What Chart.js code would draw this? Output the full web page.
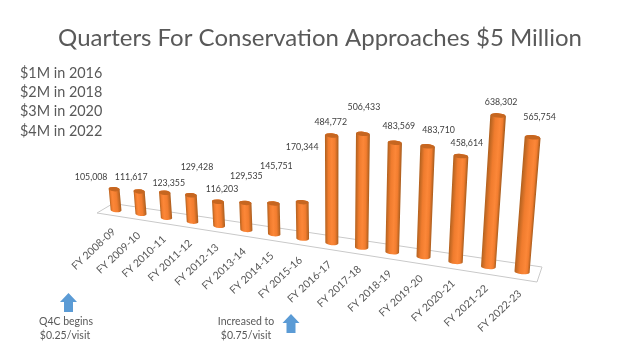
<!DOCTYPE html>
<html>
<head>
<meta charset="utf-8">
<title>Quarters For Conservation</title>
<script src="https://cdn.jsdelivr.net/npm/chart.js@4"></script>
<style>
  html, body { margin: 0; padding: 0; background: #fff; }
  canvas { display: block; }
</style>
</head>
<body>
<canvas id="q4cChart" width="640" height="360"></canvas>
<script>
// Chart data
const categories = ['FY 2008-09', 'FY 2009-10', 'FY 2010-11', 'FY 2011-12', 'FY 2012-13',
  'FY 2013-14', 'FY 2014-15', 'FY 2015-16', 'FY 2016-17', 'FY 2017-18', 'FY 2018-19',
  'FY 2019-20', 'FY 2020-21', 'FY 2021-22', 'FY 2022-23'];
const visitValues = [105008, 111617, 123355, 129428, 116203, 129535, 145751, 170344,
  484772, 506433, 483569, 483710, 458614, 638302, 565754];
const milestones = ['$1M in 2016', '$2M in 2018', '$3M in 2020', '$4M in 2022'];
const titleText = 'Quarters For Conservation Approaches $5 Million';
const valueMax = 700000;

// Hand placed labels, offset from the top of each bar
const labelShift = [[-23, -12], [-8, -14], [4, -10], [6, -28], [4, -13], [1, -27], [3, -37], [0, -55],
  [-1, -13], [1, -27], [4, -17], [11, -16], [6, -13], [3, -13], [7, -20]];

// ---------------- Perspective ----------------

// Where the value plane lands on screen: bar 1 base, last bar base, last bar at max, bar 1 at max
const quad = [[116, 210], [522, 272], [535.3, 103], [103, 64]];

function squareToQuad(q) {
  const [[x0, y0], [x1, y1], [x2, y2], [x3, y3]] = q;
  const dx1 = x1 - x2, dx2 = x3 - x2, sx = x0 - x1 + x2 - x3;
  const dy1 = y1 - y2, dy2 = y3 - y2, sy = y0 - y1 + y2 - y3;
  const den = dx1 * dy2 - dx2 * dy1;
  const g = (sx * dy2 - dx2 * sy) / den;
  const h = (dx1 * sy - sx * dy1) / den;
  return { a: x1 - x0 + g * x1, b: x3 - x0 + h * x3, c: x0,
           d: y1 - y0 + g * y1, e: y3 - y0 + h * y3, f: y0, g, h };
}
const H = squareToQuad(quad);

// Flat scale pixels -> screen pixels
function project(chart, px, py) {
  const xs = chart.scales.x, ys = chart.scales.y;
  const x0 = xs.getPixelForValue(0), x1 = xs.getPixelForValue(categories.length - 1);
  const y0 = ys.getPixelForValue(0), y1 = ys.getPixelForValue(valueMax);
  const s = (px - x0) / (x1 - x0), t = (py - y0) / (y1 - y0);
  const w = H.g * s + H.h * t + 1;
  return { x: (H.a * s + H.b * t + H.c) / w, y: (H.d * s + H.e * t + H.f) / w };
}

// ---------------- Cylinder bars ----------------

class CylinderElement extends Chart.BarElement {
  draw(ctx) {
    const chart = this.$chart;
    const hw = this.width / 2;
    const bl = project(chart, this.x - hw, this.base), br = project(chart, this.x + hw, this.base);
    const tl = project(chart, this.x - hw, this.y), tr = project(chart, this.x + hw, this.y);
    const cb = { x: (bl.x + br.x) / 2, y: (bl.y + br.y) / 2 };
    const ct = { x: (tl.x + tr.x) / 2, y: (tl.y + tr.y) / 2 };
    const rx = Math.hypot(br.x - bl.x, br.y - bl.y) / 2;
    const ry = 2.2;
    const rot = Math.atan2(br.y - bl.y, br.x - bl.x) * 0.6;

    // highlight slides across the bar with its place on the floor
    const hi = 0.5 + (cb.x - 333) / 1000;
    const grad = ctx.createLinearGradient(bl.x, cb.y, br.x, cb.y);
    grad.addColorStop(0, '#b4621f');
    grad.addColorStop(hi * 0.5, '#f07c2e');
    grad.addColorStop(hi, '#fc8738');
    grad.addColorStop(hi + (1 - hi) * 0.5, '#f27d2f');
    grad.addColorStop(1, '#ac5e1e');

    ctx.save();
    ctx.beginPath();
    ctx.moveTo(tl.x, tl.y);
    ctx.lineTo(bl.x, bl.y);
    ctx.ellipse(cb.x, cb.y, rx, ry, rot, Math.PI, 0, true);
    ctx.lineTo(tr.x, tr.y);
    ctx.ellipse(ct.x, ct.y, rx, ry, rot, 0, Math.PI, true);
    ctx.closePath();
    // shear so the shading follows the lean of the bar
    const lean = (ct.x - cb.x) / (ct.y - cb.y);
    ctx.save();
    ctx.transform(1, 0, lean, 1, -lean * cb.y, 0);
    ctx.fillStyle = grad;
    ctx.fill();
    ctx.restore();

    ctx.beginPath();
    ctx.ellipse(ct.x, ct.y, rx, ry, rot, 0, Math.PI * 2);
    ctx.fillStyle = '#c66620';
    ctx.fill();
    ctx.restore();
  }
}
CylinderElement.id = 'cylinder';

class CylinderController extends Chart.BarController {
  updateElements(bars, start, count, mode) {
    super.updateElements(bars, start, count, mode);
    bars.forEach(b => { b.$chart = this.chart; });
  }
}
CylinderController.id = 'cylinderBar';
CylinderController.defaults = Object.assign({}, Chart.BarController.defaults, { dataElementType: 'cylinder' });

Chart.register(CylinderElement, CylinderController);

// ---------------- Floor, labels, notes ----------------

function drawArrow(ctx, cx, top, bottom) {
  ctx.beginPath();
  ctx.moveTo(cx, top);
  ctx.lineTo(cx + 8.5, top + 9);
  ctx.lineTo(cx + 4.5, top + 9);
  ctx.lineTo(cx + 4.5, bottom);
  ctx.lineTo(cx - 4.5, bottom);
  ctx.lineTo(cx - 4.5, top + 9);
  ctx.lineTo(cx - 8.5, top + 9);
  ctx.closePath();
  ctx.fillStyle = '#5b9bd5';
  ctx.fill();
}

const slidePlugin = {
  id: 'slide',
  beforeDatasetsDraw(chart) {
    const ctx = chart.ctx;
    ctx.save();
    ctx.beginPath();
    ctx.moveTo(97, 213);
    ctx.lineTo(113, 203.5);
    ctx.lineTo(542, 267);
    ctx.lineTo(537, 282);
    ctx.closePath();
    ctx.strokeStyle = '#c9c9c9';
    ctx.lineWidth = 1;
    ctx.stroke();
    ctx.restore();
  },
  afterDatasetsDraw(chart) {
    const ctx = chart.ctx;
    const bars = chart.getDatasetMeta(0).data;
    ctx.save();

    // value labels
    ctx.font = '8.8px Lato';
    ctx.fillStyle = '#404040';
    ctx.textAlign = 'center';
    ctx.textBaseline = 'middle';
    bars.forEach((bar, i) => {
      const top = project(chart, bar.x, bar.y);
      ctx.fillText(visitValues[i].toLocaleString('en-US'), top.x + labelShift[i][0], top.y + labelShift[i][1]);
    });

    // category labels, slanted
    ctx.font = '10.5px Lato';
    ctx.fillStyle = '#595959';
    ctx.textAlign = 'right';
    bars.forEach((bar, i) => {
      const p = project(chart, bar.x, bar.base);
      ctx.save();
      ctx.translate(p.x - 2, p.y + 20);
      ctx.rotate(-43 * Math.PI / 180);
      ctx.fillText(categories[i], 0, 0);
      ctx.restore();
    });

    // milestones
    ctx.font = '14.4px Lato';
    ctx.textAlign = 'left';
    milestones.forEach((m, i) => ctx.fillText(m, 20, 73 + i * 19.4));

    // notes
    ctx.font = '10.5px Lato';
    ctx.textAlign = 'center';
    ctx.fillText('Q4C begins', 66, 322);
    ctx.fillText('$0.25/visit', 65, 336);
    ctx.fillText('Increased to', 246, 322);
    ctx.fillText('$0.75/visit', 246, 336);
    drawArrow(ctx, 68.5, 293, 312);
    drawArrow(ctx, 291, 314, 333);
    ctx.restore();
  }
};

// ---------------- Chart ----------------

new Chart(document.getElementById('q4cChart').getContext('2d'), {
  type: 'cylinderBar',
  plugins: [slidePlugin],
  data: {
    labels: categories,
    datasets: [{
      label: 'Quarters For Conservation',
      data: visitValues,
      categoryPercentage: 1,
      barPercentage: 0.44
    }]
  },
  options: {
    responsive: false,
    animation: false,
    layout: { padding: 0 },
    plugins: {
      legend: { display: false },
      tooltip: { enabled: false },
      title: {
        display: true,
        text: titleText,
        color: '#595959',
        font: { family: 'Lato', size: 24, weight: 'normal' },
        padding: { top: 24, bottom: 20 }
      }
    },
    scales: {
      x: { type: 'category', display: false },
      y: { type: 'linear', display: false, min: 0, max: valueMax }
    }
  }
});
</script>
</body>
</html>
